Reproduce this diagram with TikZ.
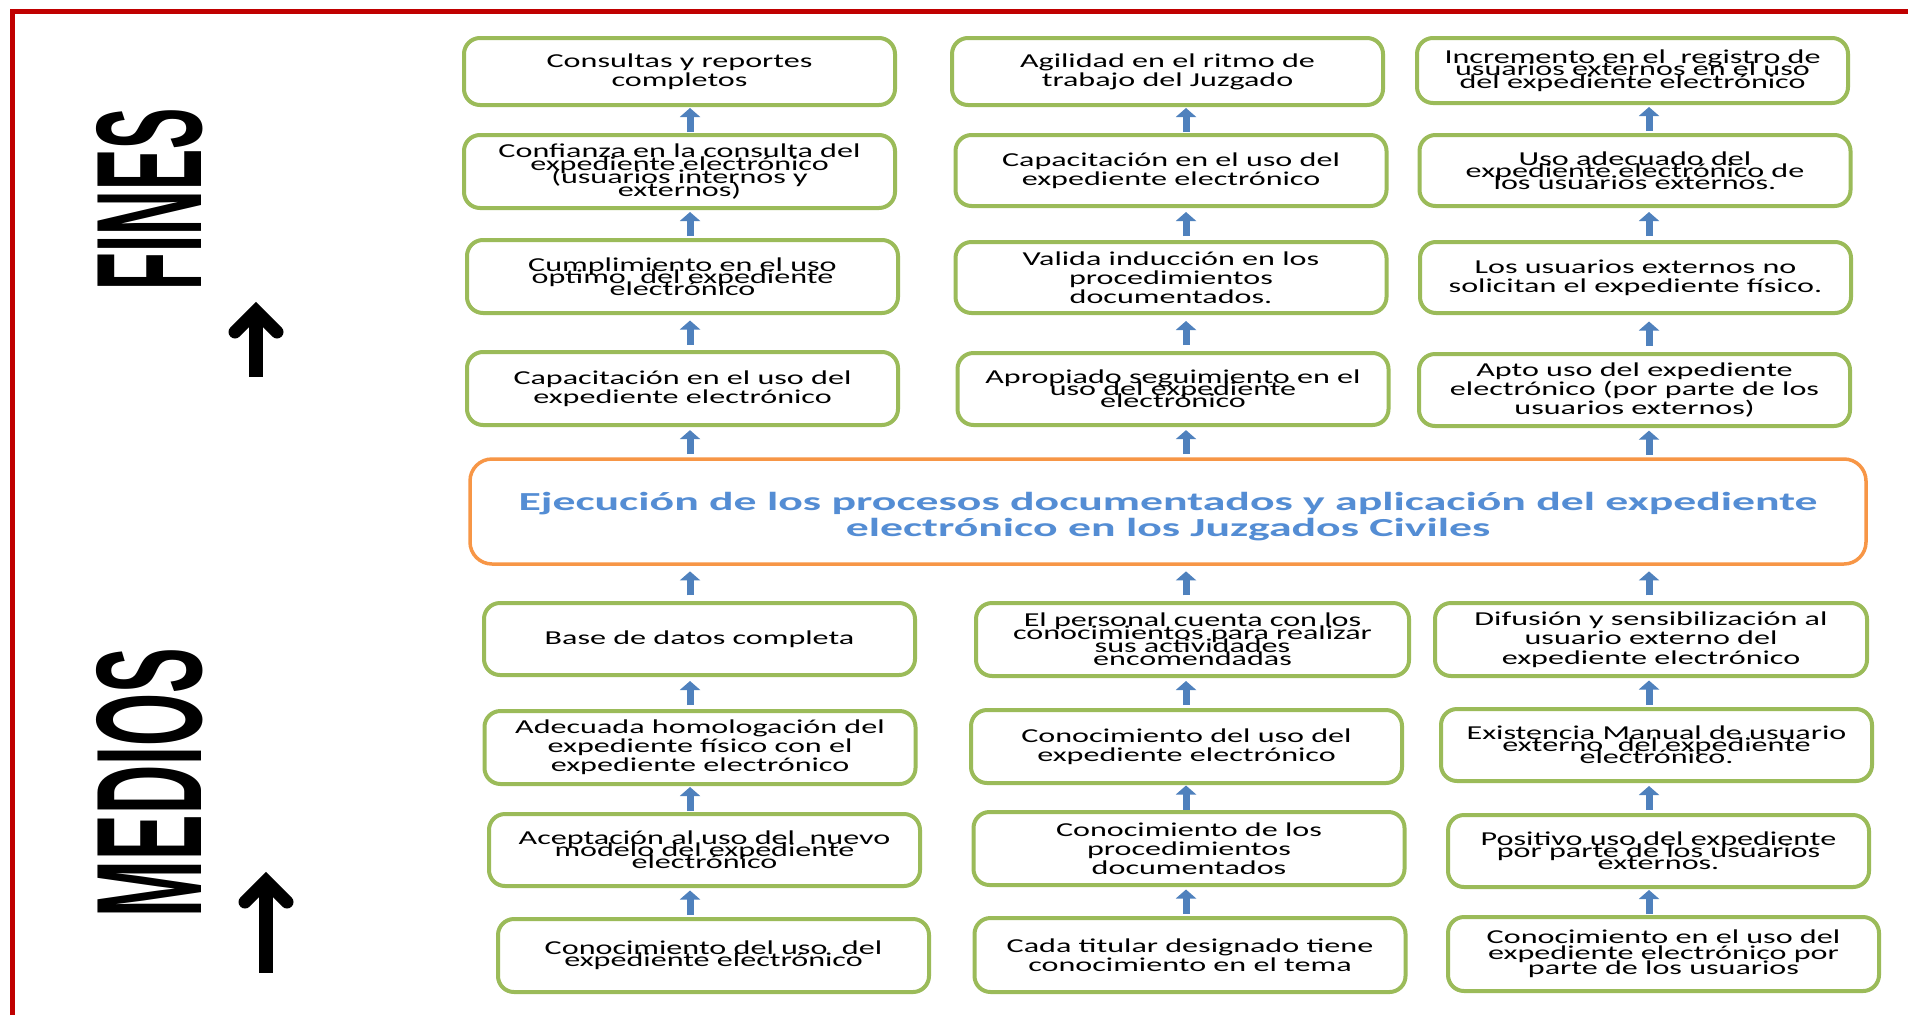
\documentclass[tikz,border=0pt]{standalone}
\usepackage{fontspec}
\usepackage{graphicx}
\usetikzlibrary{calc,arrows.meta}
\setmainfont{Carlito}
\newfontfamily\bxfam{Carlito}[FakeStretch=1.63]
\newfontfamily\ctfam{Carlito}[FakeStretch=1.76]
\newfontfamily\tagfam{Liberation Sans}
\definecolor{framered}{HTML}{C00000}
\definecolor{boxgreen}{HTML}{9BBB59}
\definecolor{coreorange}{HTML}{F79646}
\definecolor{coreblue}{HTML}{548DD4}
\definecolor{arblue}{HTML}{4F81BD}
% box text: fixed size, line distance given as argument
\newcommand\bxf[1]{\bxfam\fontsize{19.7}{#1}\selectfont\lineskiplimit=-100pt\relax}
% short link arrow between two stacked boxes, centred in the gap
\newcommand\uplink[3]{\draw[upar] ($(#1.north -| #3)!.5!(#2.south -| #3)+(0,12)$) -- ++(0,-24);}
\begin{document}
\begin{tikzpicture}[x=1pt,y=-1pt,
  goal/.style={draw=boxgreen, line width=4pt, rounded corners=16pt, fill=white,
    align=center, inner sep=0pt, minimum width=431pt, text=black},
  core/.style={draw=coreorange, line width=3.5pt, rounded corners=22pt, fill=white,
    inner sep=0pt},
  coretext/.style={align=center, inner sep=0pt, text=coreblue,
    font=\ctfam\bfseries\fontsize{26}{26.5}\selectfont},
  upar/.style={draw=arblue, line width=7pt,
    -{Triangle[length=9pt 0 0, width=20pt 0 0]}},
  bigarrow/.style={line width=13pt, line cap=round, line join=miter},
  bigshaft/.style={line width=14pt, line cap=butt}]
\useasboundingbox (0,0) rectangle (1908,1015);
\fill[white] (0,0) rectangle (1908,1015);

% frame
\draw[framered, line width=4.5pt] (12.5,1015) -- (12.5,11.3) -- (1908,11.3);

% side titles
\node[rotate=90, inner sep=0pt] (fines) at (149.5,199)
  {\resizebox{182pt}{105pt}{\tagfam\bfseries FINES}};
\node[rotate=90, inner sep=0pt] (medios) at (149.5,782.5)
  {\resizebox{269pt}{105pt}{\tagfam\bfseries MEDIOS}};

% big black arrows
\draw[bigshaft] (256,318) -- (256,377);
\draw[bigarrow] (235,332) -- (256,311) -- (277,332);
\draw[bigshaft] (266,888) -- (266,973);
\draw[bigarrow] (245,902) -- (266,881) -- (287,902);

% columns of the link arrows
\coordinate (c1) at (690,0);
\coordinate (c2) at (1186,0);
\coordinate (c3) at (1649,0);

% ends (upper half)
\node[goal, minimum height=67pt, font=\bxf{19}] (T11) at (679.5,71.5) {Consultas y reportes\\completos};
\node[goal, minimum height=73pt, font=\bxf{13.3}] (T12) at (679.5,171.5) {Confianza en la consulta del\\expediente electrónico\\(usuarios internos y\\externos)};
\node[goal, minimum height=73pt, font=\bxf{12}] (T13) at (682.5,276.5) {Cumplimiento en el uso\\optimo\ \ del expediente\\electrónico};
\node[goal, minimum height=73pt, font=\bxf{19}] (T14) at (682.5,388.5) {Capacitación en el uso del\\expediente electrónico};

\node[goal, minimum height=67pt, font=\bxf{19}] (T21) at (1167.5,71.5) {Agilidad en el ritmo de\\trabajo del Juzgado};
\node[goal, minimum height=71pt, font=\bxf{19}] (T22) at (1171,170.5) {Capacitación en el uso del\\expediente electrónico};
\node[goal, minimum height=71pt, font=\bxf{19}] (T23) at (1171,277.5) {Valida inducción en los\\procedimientos\\documentados.};
\node[goal, minimum height=72pt, font=\bxf{12}] (T24) at (1173,389) {Apropiado seguimiento en el\\uso del expediente\\electrónico};

\node[goal, minimum height=65pt, font=\bxf{12.3}] (T31) at (1632.5,70.5) {Incremento en el\ \ registro de\\usuarios externos en el uso\\del expediente electrónico};
\node[goal, minimum height=71pt, font=\bxf{12}] (T32) at (1635,170.5) {Uso adecuado del\\expediente electrónico de\\los usuarios externos.};
\node[goal, minimum height=71pt, font=\bxf{19}] (T33) at (1635.5,277.5) {Los usuarios externos no\\solicitan el expediente físico.};
\node[goal, minimum height=72pt, font=\bxf{19}] (T34) at (1634.5,390) {Apto uso del expediente\\electrónico (por parte de los\\usuarios externos)};

% central statement
\node[core, minimum width=1396pt, minimum height=105pt] (core) at (1168,511.5) {};
\node[coretext] (coretxt) at ([yshift=-5pt]core.center)
  {Ejecución de los procesos documentados y aplicación del expediente\\electrónico en los Juzgados Civiles};

% means (lower half)
\node[goal, minimum height=72pt, font=\bxf{19}] (B11) at (699.5,639) {Base de datos completa};
\node[goal, minimum height=73pt, font=\bxf{19}] (B12) at (700,747.5) {Adecuada homologación del\\expediente físico con el\\expediente electrónico};
\node[goal, minimum height=72pt, font=\bxf{12}] (B13) at (704.5,850) {Aceptación al uso del\ \ nuevo\\modelo del expediente\\electrónico};
\node[goal, minimum height=73pt, font=\bxf{11.7}] (B14) at (713.5,955.5) {Conocimiento del uso\ \ del\\expediente electrónico};

\node[goal, minimum width=433pt, minimum height=73pt, font=\bxf{13}] (B21) at (1192.5,639.5) {El personal cuenta con los\\conocimientos para realizar\\sus actividades\\encomendadas};
\node[goal, minimum height=73pt, font=\bxf{19}] (B22) at (1186.5,746.5) {Conocimiento del uso del\\expediente electrónico};
\node[goal, minimum height=73pt, font=\bxf{19}] (B23) at (1189,848.5) {Conocimiento de los\\procedimientos\\documentados};
\node[goal, minimum height=74pt, font=\bxf{19}] (B24) at (1190,955) {Cada titular designado tiene\\conocimiento en el tema};

\node[goal, minimum width=432pt, minimum height=73pt, font=\bxf{19.5}] (B31) at (1651,639.5) {Difusión y sensibilización al\\usuario externo del\\expediente electrónico};
\node[goal, minimum height=72pt, font=\bxf{12}] (B32) at (1656.5,745) {Existencia Manual de usuario\\externo\ \ del expediente\\electrónico.};
\node[goal, minimum width=421pt, minimum height=72pt, font=\bxf{12}] (B33) at (1658.5,851) {Positivo uso del expediente\\por parte de los usuarios\\externos.};
\node[goal, minimum height=74pt, font=\bxf{15.5}] (B34) at (1663.5,954) {Conocimiento en el uso del\\expediente electrónico por\\parte de los usuarios};

% links: every arrow points to the box above
\uplink{T12}{T11}{c1}
\uplink{T13}{T12}{c1}
\uplink{T14}{T13}{c1}
\uplink{core}{T14}{c1}
\uplink{T22}{T21}{c2}
\uplink{T23}{T22}{c2}
\uplink{T24}{T23}{c2}
\uplink{core}{T24}{c2}
\uplink{T32}{T31}{c3}
\uplink{T33}{T32}{c3}
\uplink{T34}{T33}{c3}
\uplink{core}{T34}{c3}
\uplink{B11}{core}{c1}
\uplink{B12}{B11}{c1}
\uplink{B13}{B12}{c1}
\uplink{B14}{B13}{c1}
\uplink{B21}{core}{c2}
\uplink{B22}{B21}{c2}
\uplink{B23}{B22}{c2}
\uplink{B24}{B23}{c2}
\uplink{B31}{core}{c3}
\uplink{B32}{B31}{c3}
\uplink{B33}{B32}{c3}
\uplink{B34}{B33}{c3}
\end{tikzpicture}
\end{document}
